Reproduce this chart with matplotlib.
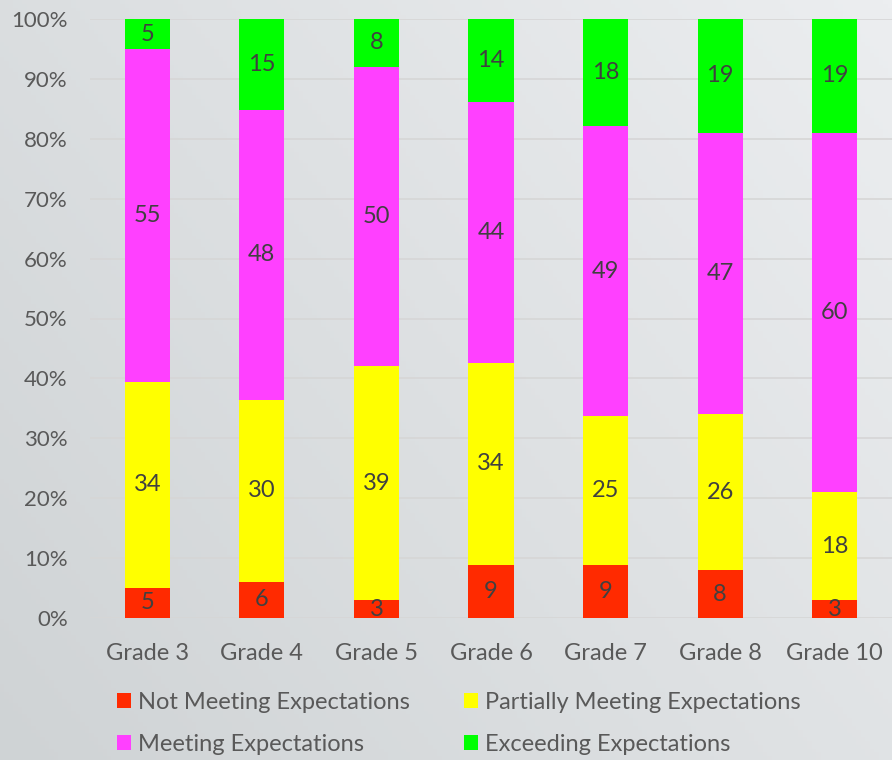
import numpy as np
import matplotlib.pyplot as plt
from matplotlib.patches import Patch
from matplotlib.colors import LinearSegmentedColormap

plt.rcParams['font.family'] = ['Lato', 'DejaVu Sans']

grades = ["Grade 3", "Grade 4", "Grade 5", "Grade 6", "Grade 7", "Grade 8", "Grade 10"]
not_meeting = [5, 6, 3, 9, 9, 8, 3]
partially = [34, 30, 39, 34, 25, 26, 18]
meeting = [55, 48, 50, 44, 49, 47, 60]
exceeding = [5, 15, 8, 14, 18, 19, 19]

series_names = ["Not Meeting Expectations", "Partially Meeting Expectations",
                "Meeting Expectations", "Exceeding Expectations"]
colors = ["#ff2a00", "#ffff00", "#ff40ff", "#00ff00"]

fig = plt.figure(figsize=(8.92, 7.6), dpi=100)

# background gradient
bg = fig.add_axes([0, 0, 1, 1], zorder=-10)
yy, xx = np.mgrid[0:1:200j, 0:1:200j]
grad = (xx * 0.6 + yy * 0.4)
cmap = LinearSegmentedColormap.from_list("bg", ["#cfd3d5", "#eceef0"])
bg.imshow(grad, cmap=cmap, origin="lower", extent=[0, 1, 0, 1], aspect="auto")
bg.axis("off")

ax = fig.add_axes([90 / 892, 1 - 618 / 760, 802 / 892, 599 / 760])
ax.set_facecolor("none")

data = np.array([not_meeting, partially, meeting, exceeding], dtype=float)
pct = data / data.sum(axis=0) * 100
x = np.arange(len(grades))
bottom = np.zeros(len(grades))
for i in range(4):
    ax.bar(x, pct[i], 0.395, bottom=bottom, color=colors[i], zorder=3)
    for j in range(len(grades)):
        ax.text(x[j], bottom[j] + pct[i][j] / 2, f"{int(data[i][j])}",
                ha="center", va="center", fontsize=17, color="#404040", zorder=4)
    bottom += pct[i]

ax.set_xlim(-0.5, len(grades) - 0.5)
ax.set_ylim(0, 100)
ax.set_yticks(np.arange(0, 101, 10))
ax.set_yticklabels([f"{v}%" for v in range(0, 101, 10)])
ax.set_xticks(x)
ax.set_xticklabels(grades)
ax.tick_params(axis="both", length=0, labelcolor="#595959")
ax.tick_params(axis="y", pad=16, labelsize=16)
ax.tick_params(axis="x", pad=18, labelsize=17)
ax.grid(axis="y", color="#d6d6d6", linewidth=1.2, zorder=0)
for s in ax.spines.values():
    s.set_visible(False)

# column-first order: red, magenta | yellow, green
order = [0, 2, 1, 3]
handles = [Patch(facecolor=colors[k]) for k in order]
labels = [series_names[k] for k in order]
fig.legend(handles, labels, loc="upper left", bbox_to_anchor=(105 / 892, 1 - 680 / 760),
           ncol=2, frameon=False, fontsize=17, labelcolor="#595959",
           handlelength=0.6, handleheight=0.6, handletextpad=0.3,
           columnspacing=2.3, labelspacing=0.9, borderpad=0)

plt.savefig("out.png", dpi=100)
